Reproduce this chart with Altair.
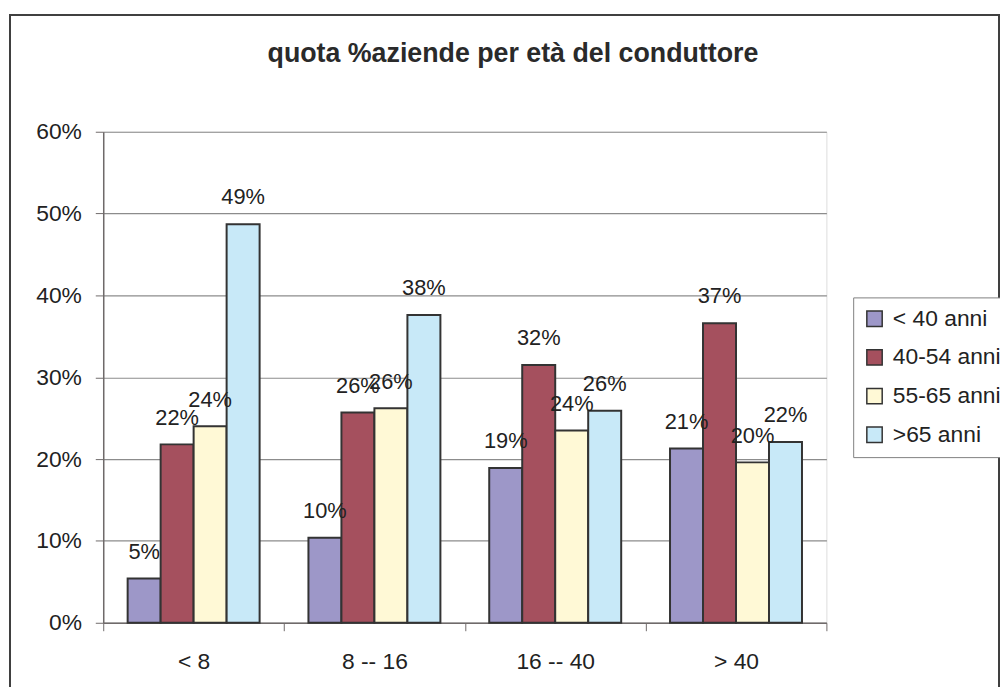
import altair as alt
import pandas as pd

titolo = "quota %aziende per età del conduttore"
classi = ["< 8", "8 -- 16", "16 -- 40", "> 40"]
eta = ["< 40 anni", "40-54 anni", "55-65 anni", ">65 anni"]
colori = ["#9D97C8", "#A5505E", "#FFF9D6", "#C8E9F8"]

v_meno40 = [0.054, 0.104, 0.189, 0.213]
v_40_54 = [0.218, 0.257, 0.315, 0.366]
v_55_65 = [0.240, 0.262, 0.235, 0.196]
v_oltre65 = [0.487, 0.376, 0.259, 0.221]

serie = [v_meno40, v_40_54, v_55_65, v_oltre65]
rows = []
for e, vals in zip(eta, serie):
    for c, v in zip(classi, vals):
        rows.append({"classe": c, "eta": e, "quota": v, "lab": f"{round(v * 100):.0f}%"})
df = pd.DataFrame(rows)

FONT = "Liberation Sans"
W, H = 729, 495

x_enc = alt.X("classe:N", sort=classi, title=None,
              scale=alt.Scale(paddingInner=0, paddingOuter=0),
              axis=alt.Axis(labelAngle=0, tickBand="extent", labelFontSize=23, labelFont=FONT,
                            labelColor="#222222", labelPadding=20, tickSize=8,
                            tickColor="#6f6a6a", domainColor="#6f6a6a", domainWidth=1.5,
                            grid=False))
xo_enc = alt.XOffset("eta:N", sort=eta, scale=alt.Scale(paddingInner=0, paddingOuter=0.74))
y_enc = alt.Y("quota:Q", title=None,
              scale=alt.Scale(domain=[0, 0.6], nice=False),
              axis=alt.Axis(format=".0%", values=[0, 0.1, 0.2, 0.3, 0.4, 0.5, 0.6],
                            labelFontSize=23, labelFont=FONT, labelColor="#222222",
                            labelPadding=14, tickSize=8, tickColor="#6f6a6a",
                            domainColor="#6f6a6a", domainWidth=1.5,
                            grid=True, gridColor="#8c8c8c", gridWidth=1.2))

bars = alt.Chart(df).mark_bar(stroke="#333333", strokeWidth=2).encode(
    x=x_enc, xOffset=xo_enc, y=y_enc,
    color=alt.Color("eta:N", sort=eta, scale=alt.Scale(domain=eta, range=colori),
                    legend=alt.Legend(title=None, orient="none", legendX=756, legendY=167,
                                      symbolType="square", symbolSize=240,
                                      symbolStrokeColor="#333333", symbolStrokeWidth=1.5,
                                      labelFontSize=23, labelFont=FONT, labelColor="#222222",
                                      rowPadding=15, labelOffset=7, padding=10,
                                      strokeColor="#808080", fillColor="white")),
)

labels = alt.Chart(df).mark_text(fontSize=22, font=FONT, color="#222222",
                                 baseline="middle", dy=-27).encode(
    x=alt.X("classe:N", sort=classi), xOffset=alt.XOffset("eta:N", sort=eta), y="quota:Q",
    text="lab:N")

border = alt.Chart(df).mark_rect(fill=None, stroke="#404040", strokeWidth=1.2).encode(
    x=alt.value(-94), x2=alt.value(903), y=alt.value(-118), y2=alt.value(700))

title_mark = alt.Chart(pd.DataFrame({"t": [titolo]})).mark_text(
    font=FONT, fontSize=27, fontWeight="bold", color="#2a2a2a",
    align="center", baseline="middle").encode(
    x=alt.value(413), y=alt.value(-78), text="t:N")

chart = alt.layer(border, bars, labels, title_mark).properties(
    width=W, height=H,
    autosize="none",
    padding={"left": 96, "top": 122, "right": 175, "bottom": 62},
).configure_view(stroke="#b0a8a8", strokeWidth=1).configure(background="white")

chart.save("out.html", embed_options={"renderer": "svg", "actions": False})
